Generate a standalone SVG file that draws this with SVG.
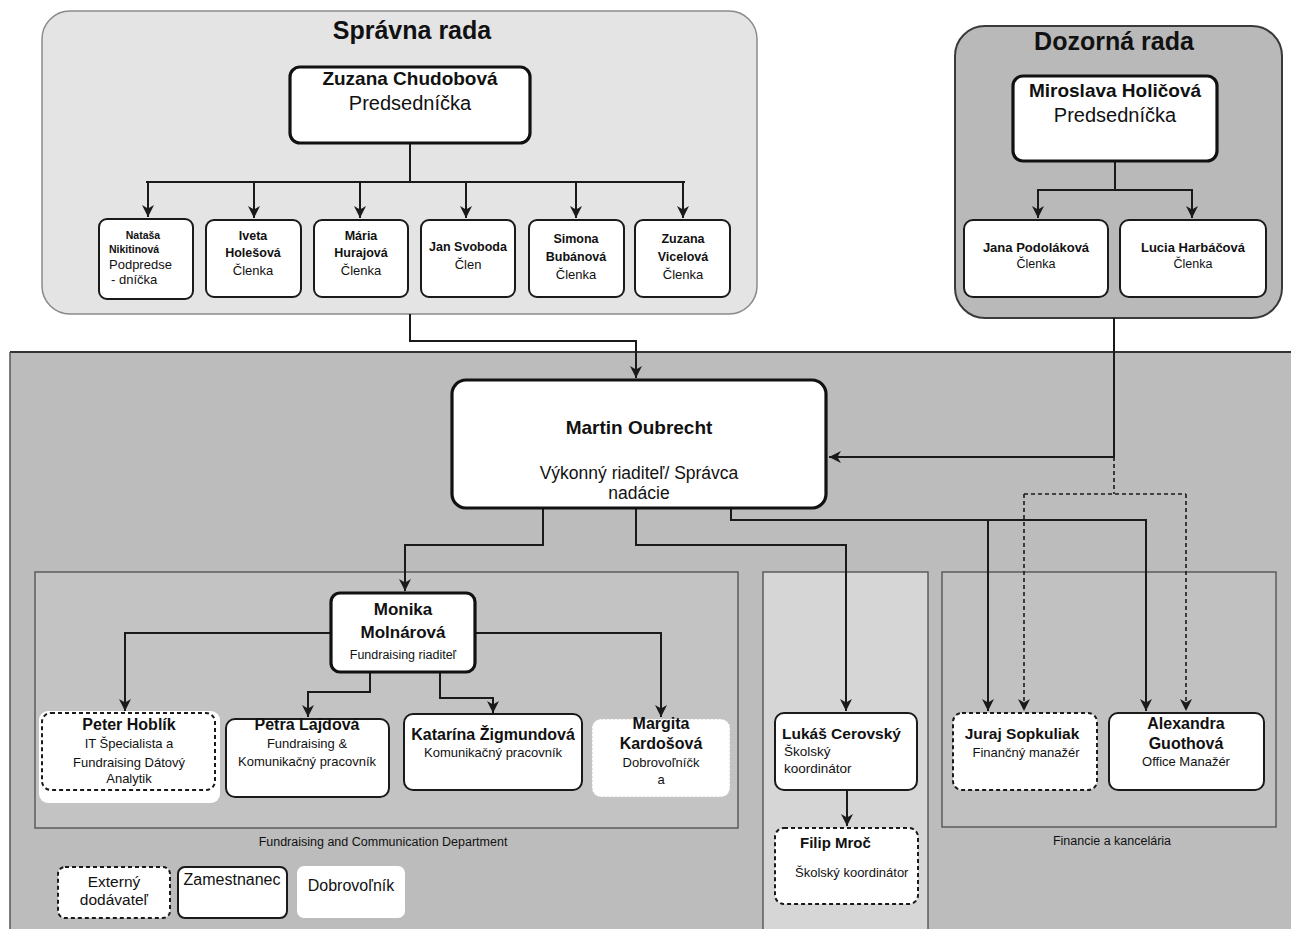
<svg xmlns="http://www.w3.org/2000/svg" width="1291" height="929" viewBox="0 0 1291 929">
<defs>
<style>
text{font-family:"Liberation Sans",Arial,sans-serif;fill:#111;}
.b{font-weight:bold;}
.m{text-anchor:middle;}
.box{fill:#fff;stroke:#1a1a1a;stroke-width:2;}
.thick{fill:#fff;stroke:#111;stroke-width:3.2;}
.ext{fill:#fff;stroke:#1a1a1a;stroke-width:2;stroke-dasharray:4 3;}
.vol{fill:#fff;stroke:#c8c8c8;stroke-width:1;stroke-dasharray:2 2;}
.ln{fill:none;stroke:#1a1a1a;stroke-width:2;}
.dl{fill:none;stroke:#1a1a1a;stroke-width:1.6;stroke-dasharray:4 3;}
.dept{stroke:#555;stroke-width:1.4;}
</style>
<marker id="ar" markerWidth="12" markerHeight="12" refX="10" refY="5" orient="auto" markerUnits="userSpaceOnUse" viewBox="0 0 10 10">
<path d="M0,0 L10,5 L0,10 L3,5 z" fill="#1a1a1a"/>
</marker>
</defs>
<rect width="1291" height="929" fill="#fff"/>

<!-- containers -->
<g id="spravna-rada-area">
<rect x="42" y="11" width="715" height="303" rx="28" fill="#e4e4e4" stroke="#8a8a8a" stroke-width="1.5"/>
<text x="412" y="39" class="b m" font-size="25">Správna rada</text>
</g>
<g id="dozorna-rada-area">
<rect x="955" y="26" width="327" height="292" rx="30" fill="#b9b9b9" stroke="#3a3a3a" stroke-width="2"/>
<text x="1114" y="50" class="b m" font-size="25">Dozorná rada</text>
</g>
<g id="main-area">
<rect x="10" y="352" width="1290" height="590" fill="#bcbcbc"/>
<line x1="10" y1="352" x2="1291" y2="352" stroke="#333" stroke-width="2"/>
<line x1="10" y1="352" x2="10" y2="929" stroke="#555" stroke-width="1.5"/>
</g>
<g id="dept-fundraising">
<rect x="35" y="572" width="703" height="256" fill="#c3c3c3" class="dept"/>
<text x="383" y="846" class="m" font-size="12.5">Fundraising and Communication Department</text>
</g>
<g id="dept-school">
<rect x="763" y="572" width="165" height="370" fill="#d6d6d6" class="dept"/>
</g>
<g id="dept-finance">
<rect x="942" y="572" width="334" height="255" fill="#c1c1c1" class="dept"/>
<text x="1112" y="845" class="m" font-size="12.5">Financie a kancelária</text>
</g>

<!-- connectors -->
<g id="connectors">
<path class="ln" d="M410,143 V182"/>
<path class="ln" d="M146,182 H685"/>
<path class="ln" d="M148,182 V217" marker-end="url(#ar)"/>
<path class="ln" d="M254,182 V218" marker-end="url(#ar)"/>
<path class="ln" d="M360,182 V218" marker-end="url(#ar)"/>
<path class="ln" d="M466,182 V218" marker-end="url(#ar)"/>
<path class="ln" d="M576,182 V218" marker-end="url(#ar)"/>
<path class="ln" d="M683,182 V218" marker-end="url(#ar)"/>

<path class="ln" d="M1115,162 V190"/>
<path class="ln" d="M1037,190 H1193"/>
<path class="ln" d="M1038,190 V218" marker-end="url(#ar)"/>
<path class="ln" d="M1192,190 V218" marker-end="url(#ar)"/>

<path class="ln" d="M410,314 V341 H636 V378" marker-end="url(#ar)"/>
<path class="ln" d="M1114,318 V457 H829" marker-end="url(#ar)"/>
<path class="dl" d="M1114,457 V494"/>
<path class="dl" d="M1024,494 H1186"/>
<path class="dl" d="M1024,494 V711" marker-end="url(#ar)"/>
<path class="dl" d="M1186,494 V711" marker-end="url(#ar)"/>

<path class="ln" d="M543,508 V545 H405 V591" marker-end="url(#ar)"/>
<path class="ln" d="M636,508 V545 H846 V711" marker-end="url(#ar)"/>
<path class="ln" d="M731,508 V520 H1146 V711" marker-end="url(#ar)"/>
<path class="ln" d="M988,520 V711" marker-end="url(#ar)"/>

<path class="ln" d="M331,633 H125 V711" marker-end="url(#ar)"/>
<path class="ln" d="M475,633 H661 V717" marker-end="url(#ar)"/>
<path class="ln" d="M370,672 V692 H308 V717" marker-end="url(#ar)"/>
<path class="ln" d="M440,672 V698 H493 V713" marker-end="url(#ar)"/>
<path class="ln" d="M847,790 V826" marker-end="url(#ar)"/>
</g>

<!-- Správna rada nodes -->
<g id="n-chudobova">
<rect x="290" y="67" width="240" height="76" rx="10" class="thick"/>
<text x="410" y="85" class="b m" font-size="19">Zuzana Chudobová</text>
<text x="410" y="110" class="m" font-size="20">Predsedníčka</text>
</g>
<g id="n-nikitinova">
<rect x="99" y="219" width="94" height="80" rx="8" class="box"/>
<text x="143" y="239" class="b m" font-size="10.5">Nataša</text>
<text x="109" y="253" class="b" font-size="10.5">Nikitinová</text>
<text x="109" y="269" font-size="13">Podpredse</text>
<text x="111" y="284" font-size="13">- dníčka</text>
</g>
<g id="n-holesova">
<rect x="206" y="220" width="95" height="77" rx="8" class="box"/>
<text x="253" y="240" class="b m" font-size="12.5">Iveta</text>
<text x="253" y="257" class="b m" font-size="12.5">Holešová</text>
<text x="253" y="275" class="m" font-size="13">Členka</text>
</g>
<g id="n-hurajova">
<rect x="314" y="220" width="94" height="77" rx="8" class="box"/>
<text x="361" y="240" class="b m" font-size="12.5">Mária</text>
<text x="361" y="257" class="b m" font-size="12.5">Hurajová</text>
<text x="361" y="275" class="m" font-size="13">Členka</text>
</g>
<g id="n-svoboda">
<rect x="421" y="220" width="94" height="77" rx="8" class="box"/>
<text x="468" y="251" class="b m" font-size="12.5">Jan Svoboda</text>
<text x="468" y="269" class="m" font-size="13">Člen</text>
</g>
<g id="n-bubanova">
<rect x="529" y="220" width="95" height="77" rx="8" class="box"/>
<text x="576" y="243" class="b m" font-size="12.5">Simona</text>
<text x="576" y="261" class="b m" font-size="12.5">Bubánová</text>
<text x="576" y="279" class="m" font-size="13">Členka</text>
</g>
<g id="n-vicelova">
<rect x="635" y="220" width="95" height="77" rx="8" class="box"/>
<text x="683" y="243" class="b m" font-size="12.5">Zuzana</text>
<text x="683" y="261" class="b m" font-size="12.5">Vicelová</text>
<text x="683" y="279" class="m" font-size="13">Členka</text>
</g>

<!-- Dozorná rada nodes -->
<g id="n-holicova">
<rect x="1013" y="76" width="204" height="85" rx="10" class="thick"/>
<text x="1115" y="97" class="b m" font-size="19">Miroslava Holičová</text>
<text x="1115" y="122" class="m" font-size="20">Predsedníčka</text>
</g>
<g id="n-podolakova">
<rect x="964" y="220" width="144" height="77" rx="9" class="box"/>
<text x="1036" y="252" class="b m" font-size="13">Jana Podoláková</text>
<text x="1036" y="268" class="m" font-size="12.5">Členka</text>
</g>
<g id="n-harbacova">
<rect x="1120" y="220" width="146" height="77" rx="9" class="box"/>
<text x="1193" y="252" class="b m" font-size="13">Lucia Harbáčová</text>
<text x="1193" y="268" class="m" font-size="12.5">Členka</text>
</g>

<!-- Executive -->
<g id="n-oubrecht">
<rect x="452" y="380" width="374" height="128" rx="14" class="thick"/>
<text x="639" y="434" class="b m" font-size="19">Martin Oubrecht</text>
<text x="639" y="479" class="m" font-size="17.5">Výkonný riaditeľ/ Správca</text>
<text x="639" y="499" class="m" font-size="17.5">nadácie</text>
</g>

<!-- Fundraising -->
<g id="n-molnarova">
<rect x="331" y="593" width="144" height="79" rx="9" class="thick" stroke-width="2.6"/>
<text x="403" y="615" class="b m" font-size="17">Monika</text>
<text x="403" y="638" class="b m" font-size="17">Molnárová</text>
<text x="403" y="659" class="m" font-size="12.5">Fundraising riaditeľ</text>
</g>
<g id="n-hoblik">
<rect x="39" y="711" width="181" height="92" rx="9" fill="#fff"/>
<rect x="42" y="713" width="173" height="77" rx="9" class="ext"/>
<text x="129" y="730" class="b m" font-size="16">Peter Hoblík</text>
<text x="129" y="748" class="m" font-size="13">IT Špecialista a</text>
<text x="129" y="767" class="m" font-size="13">Fundraising Dátový</text>
<text x="129" y="783" class="m" font-size="13">Analytik</text>
</g>
<g id="n-lajdova">
<rect x="226" y="719" width="163" height="78" rx="9" class="box"/>
<text x="307" y="730" class="b m" font-size="16">Petra Lajdová</text>
<text x="307" y="748" class="m" font-size="13">Fundraising &amp;</text>
<text x="307" y="766" class="m" font-size="13">Komunikačný pracovník</text>
</g>
<g id="n-zigmundova">
<rect x="404" y="714" width="178" height="76" rx="9" class="box"/>
<text x="493" y="740" class="b m" font-size="16">Katarína Žigmundová</text>
<text x="493" y="757" class="m" font-size="13">Komunikačný pracovník</text>
</g>
<g id="n-kardosova">
<rect x="592" y="719" width="138" height="78" rx="9" class="vol"/>
<text x="661" y="729" class="b m" font-size="16">Margita</text>
<text x="661" y="749" class="b m" font-size="16">Kardošová</text>
<text x="661" y="767" class="m" font-size="13">Dobrovoľníčk</text>
<text x="661" y="784" class="m" font-size="13">a</text>
</g>

<!-- School -->
<g id="n-cerovsky">
<rect x="775" y="713" width="142" height="77" rx="9" class="box"/>
<text x="782" y="739" class="b" font-size="15.5">Lukáš Cerovský</text>
<text x="784" y="756" font-size="13.5">Školský</text>
<text x="784" y="773" font-size="13.5">koordinátor</text>
</g>
<g id="n-mroc">
<rect x="775" y="828" width="143" height="76" rx="9" class="ext"/>
<text x="800" y="848" class="b" font-size="15">Filip Mroč</text>
<text x="795" y="877" font-size="13">Školský koordinátor</text>
</g>

<!-- Finance -->
<g id="n-sopkuliak">
<rect x="953" y="713" width="144" height="77" rx="9" class="ext"/>
<text x="1022" y="739" class="b m" font-size="15.5">Juraj Sopkuliak</text>
<text x="1026" y="757" class="m" font-size="13">Finančný manažér</text>
</g>
<g id="n-guothova">
<rect x="1109" y="713" width="155" height="77" rx="9" class="box"/>
<text x="1186" y="729" class="b m" font-size="16">Alexandra</text>
<text x="1186" y="749" class="b m" font-size="16">Guothová</text>
<text x="1186" y="766" class="m" font-size="13">Office Manažér</text>
</g>

<!-- Legend -->
<g id="legend">
<rect x="58" y="867" width="112" height="51" rx="7" class="ext"/>
<text x="114" y="887" class="m" font-size="15.5">Externý</text>
<text x="114" y="905" class="m" font-size="15.5">dodávateľ</text>
<rect x="178" y="867" width="109" height="51" rx="7" class="box"/>
<text x="232" y="885" class="m" font-size="16">Zamestnanec</text>
<rect x="297" y="866" width="108" height="52" rx="7" fill="#fff"/>
<text x="351" y="891" class="m" font-size="16">Dobrovoľník</text>
</g>
</svg>
